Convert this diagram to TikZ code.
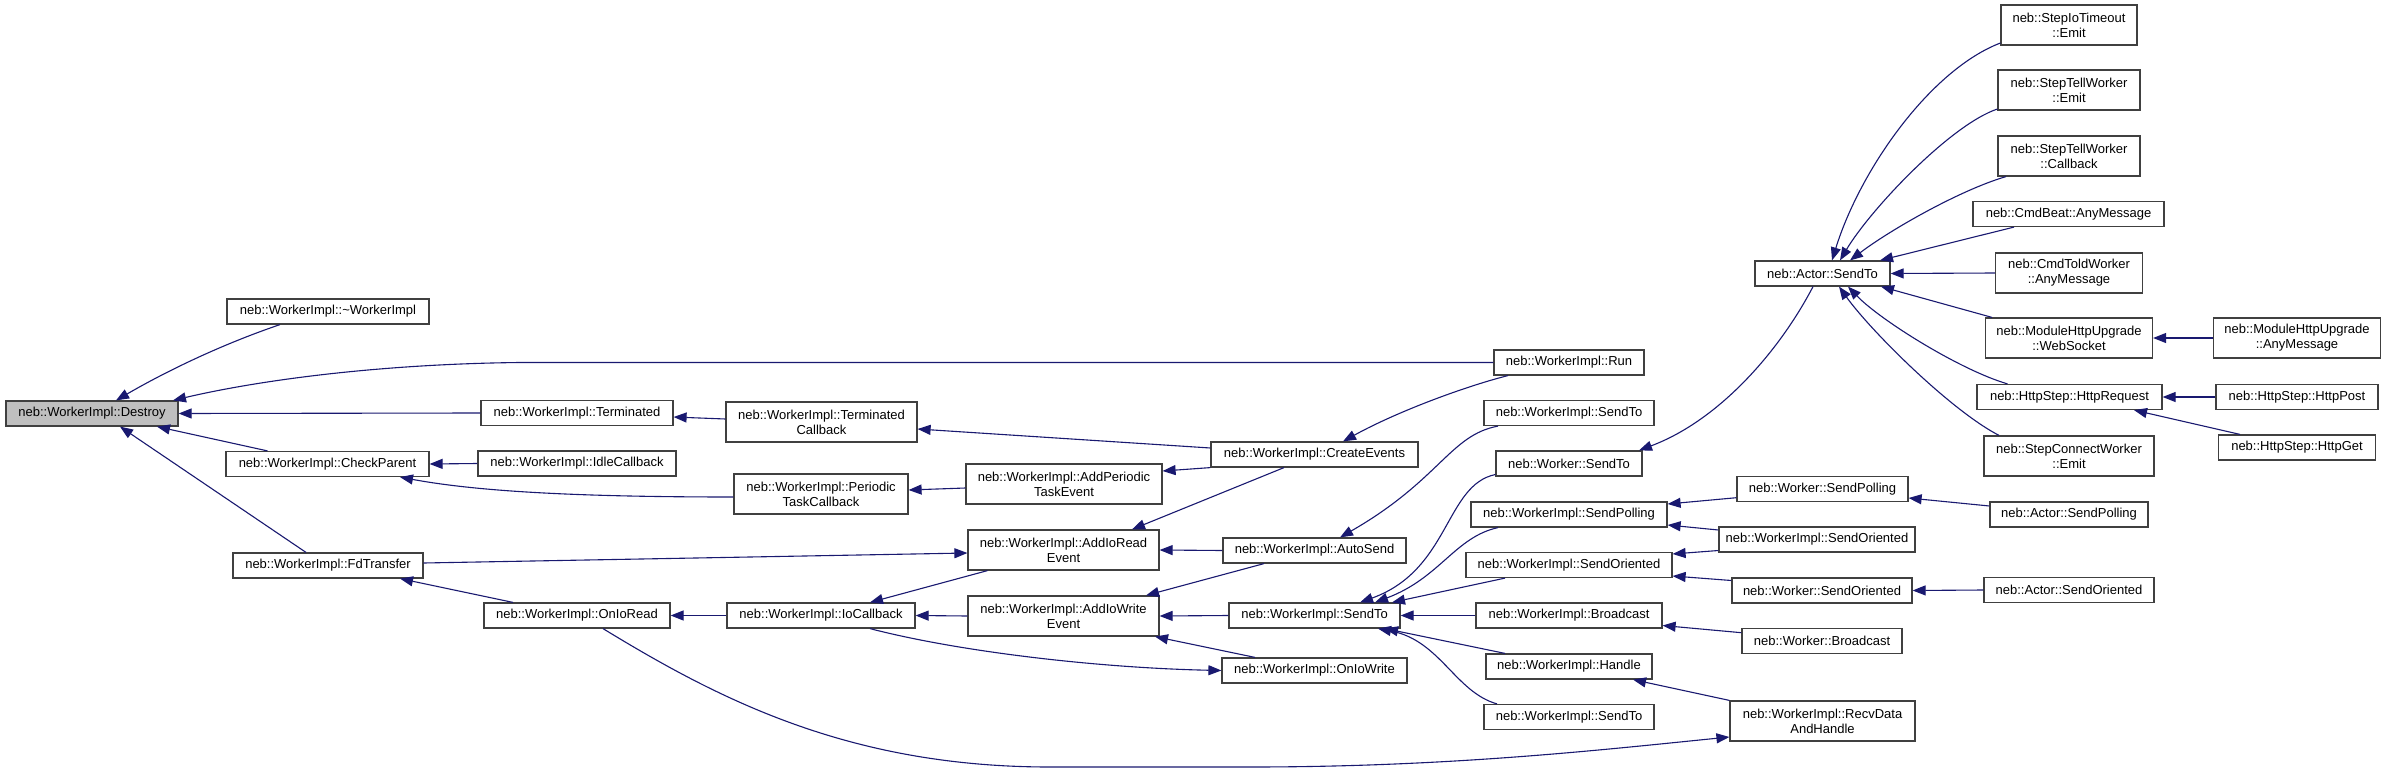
\documentclass[tikz,border=0pt]{standalone}
\usepackage{fontspec}
\setmainfont{Liberation Sans}
\usetikzlibrary{arrows.meta}
\definecolor{edgeblue}{HTML}{191970}
\definecolor{nodeborder}{HTML}{404040}
\definecolor{hilite}{HTML}{BFBFBF}
\begin{document}
\begin{tikzpicture}[x=1pt,y=-1pt,
  box/.style={draw=nodeborder, line width=1.2pt, fill=white, inner sep=0pt, align=center,
    font=\fontsize{13}{15}\selectfont, minimum height=25pt},
  tall/.style={minimum height=40pt},
  edge/.style={draw=edgeblue, line width=1.1pt, -{Triangle[length=13pt,width=10pt]}}]
\useasboundingbox (0,0) rectangle (2387,773);
\fill[white] (0,0) rectangle (2387,773);

% nodes
\node[box, fill=hilite, minimum width=172pt] (destroy) at (92,413.5) {neb::WorkerImpl::Destroy};
\node[box, minimum width=202pt] (dtor) at (328,311.5) {neb::WorkerImpl::\textasciitilde WorkerImpl};
\node[box, minimum width=203pt] (checkparent) at (327.5,464) {neb::WorkerImpl::CheckParent};
\node[box, minimum width=190pt] (fdtransfer) at (328,565.5) {neb::WorkerImpl::FdTransfer};
\node[box, minimum width=192pt] (terminated) at (577,413) {neb::WorkerImpl::Terminated};
\node[box, tall, minimum width=191pt] (termcb) at (821.5,422) {neb::WorkerImpl::Terminated\\Callback};
\node[box, minimum width=198pt] (idlecb) at (577,463.5) {neb::WorkerImpl::IdleCallback};
\node[box, tall, minimum width=174pt] (periodiccb) at (821,494) {neb::WorkerImpl::Periodic\\TaskCallback};
\node[box, minimum width=186pt] (onioread) at (577,615.5) {neb::WorkerImpl::OnIoRead};
\node[box, minimum width=188pt] (iocallback) at (821,615.5) {neb::WorkerImpl::IoCallback};
\node[box, minimum width=207pt] (createevents) at (1314.5,454.5) {neb::WorkerImpl::CreateEvents};
\node[box, tall, minimum width=196pt] (addperiodic) at (1064,484) {neb::WorkerImpl::AddPeriodic\\TaskEvent};
\node[box, tall, minimum width=191pt] (addioread) at (1063.5,550) {neb::WorkerImpl::AddIoRead\\Event};
\node[box, minimum width=183pt] (autosend) at (1314.5,550.5) {neb::WorkerImpl::AutoSend};
\node[box, tall, minimum width=191pt] (addiowrite) at (1063.5,616) {neb::WorkerImpl::AddIoWrite\\Event};
\node[box, minimum width=171pt] (wisendto) at (1314.5,615.5) {neb::WorkerImpl::SendTo};
\node[box, minimum width=185pt] (oniowrite) at (1314.5,670.5) {neb::WorkerImpl::OnIoWrite};
\node[box, minimum width=150pt] (run) at (1569,362.5) {neb::WorkerImpl::Run};
\node[box, minimum width=170pt] (wisendtoA) at (1569,413) {neb::WorkerImpl::SendTo};
\node[box, minimum width=146pt] (workersendto) at (1569,463.5) {neb::Worker::SendTo};
\node[box, minimum width=196pt] (wisendpolling) at (1569,514.5) {neb::WorkerImpl::SendPolling};
\node[box, minimum width=206pt] (wisendoriented) at (1569,565) {neb::WorkerImpl::SendOriented};
\node[box, minimum width=186pt] (wibroadcast) at (1569,615.5) {neb::WorkerImpl::Broadcast};
\node[box, minimum width=166pt] (wihandle) at (1569,666.5) {neb::WorkerImpl::Handle};
\node[box, minimum width=170pt] (wisendtoB) at (1569,717) {neb::WorkerImpl::SendTo};
\node[box, minimum width=135pt] (actorsendto) at (1822.5,273.5) {neb::Actor::SendTo};
\node[box, minimum width=171pt] (workersendpolling) at (1822.5,489) {neb::Worker::SendPolling};
\node[box, minimum width=196pt] (wisendoriented2) at (1817,539.5) {neb::WorkerImpl::SendOriented};
\node[box, minimum width=180pt] (workersendoriented) at (1822,590.5) {neb::Worker::SendOriented};
\node[box, minimum width=160pt] (workerbroadcast) at (1822,641) {neb::Worker::Broadcast};
\node[box, tall, minimum width=185pt] (recvdata) at (1822.5,721) {neb::WorkerImpl::RecvData\\AndHandle};
\node[box, tall, minimum width=136pt] (stepio) at (2069,25) {neb::StepIoTimeout\\::Emit};
\node[box, tall, minimum width=142pt] (steptellemit) at (2069,90) {neb::StepTellWorker\\::Emit};
\node[box, tall, minimum width=142pt] (steptellcb) at (2069,156) {neb::StepTellWorker\\::Callback};
\node[box, minimum width=191pt] (cmdbeat) at (2068.5,214) {neb::CmdBeat::AnyMessage};
\node[box, tall, minimum width=147pt] (cmdtold) at (2069,273) {neb::CmdToldWorker\\::AnyMessage};
\node[box, tall, minimum width=167pt] (websocket) at (2069,338) {neb::ModuleHttpUpgrade\\::WebSocket};
\node[box, tall, minimum width=167pt] (mhuany) at (2297,338) {neb::ModuleHttpUpgrade\\::AnyMessage};
\node[box, minimum width=185pt] (httprequest) at (2069.5,397) {neb::HttpStep::HttpRequest};
\node[box, minimum width=162pt] (httppost) at (2297,397) {neb::HttpStep::HttpPost};
\node[box, minimum width=157.5pt] (httpget) at (2297,447.5) {neb::HttpStep::HttpGet};
\node[box, tall, minimum width=170pt] (stepconnect) at (2069,456) {neb::StepConnectWorker\\::Emit};
\node[box, minimum width=158pt] (actorsendpolling) at (2069,514.5) {neb::Actor::SendPolling};
\node[box, minimum width=170pt] (actorsendoriented) at (2069,590) {neb::Actor::SendOriented};

% edges: left part
\draw[edge] ([xshift=-48pt]dtor.south) .. controls (220,345) and (165,372) .. ([xshift=24pt]destroy.north);
\draw[edge] (run.west) -- (520,362.5) .. controls (380,364) and (260,380) .. ([xshift=81pt]destroy.north);
\draw[edge] (terminated.west) -- (destroy.east);
\draw[edge] ([xshift=-60pt]checkparent.north) -- ([xshift=65pt]destroy.south);
\draw[edge] ([xshift=-22pt]fdtransfer.north) -- ([xshift=28pt]destroy.south);
\draw[edge] ([yshift=3pt]termcb.west) -- ([yshift=-4pt]terminated.east);
\draw[edge] ([yshift=6.5pt]createevents.west) -- ([yshift=-7pt]termcb.east);
\draw[edge] (idlecb.west) -- (checkparent.east);
\draw[edge] ([yshift=-3pt]periodiccb.west) .. controls (560,497) and (470,490) .. ([xshift=72.5pt]checkparent.south);
\draw[edge] ([yshift=-4pt]addperiodic.west) -- ([yshift=4pt]periodiccb.east);
\draw[edge] (createevents.south west) -- ([yshift=13pt]addperiodic.east);
\draw[edge] ([yshift=2.5pt]fdtransfer.east) -- ([yshift=-3pt]addioread.west);
\draw[edge] ([xshift=-64pt]onioread.north) -- ([xshift=72pt]fdtransfer.south);
\draw[edge] (iocallback.west) -- (onioread.east);
\draw[edge] ([xshift=26pt]onioread.south) .. controls (720,700) and (850,767) .. (1050,767) -- (1250,767) .. controls (1450,767) and (1600,750) .. ([yshift=-16pt]recvdata.west);
\draw[edge] ([xshift=-76pt]addioread.south) -- ([xshift=49pt]iocallback.north);
\draw[edge] (addiowrite.west) -- (iocallback.east);
\draw[edge] ([xshift=49pt]iocallback.south) .. controls (960,652) and (1100,668) .. (oniowrite.west);
\draw[edge] ([xshift=-30.5pt]createevents.south) -- ([xshift=68.5pt]addioread.north);
\draw[edge] (autosend.west) -- (addioread.east);
\draw[edge] ([xshift=-50.5pt]autosend.south) -- ([xshift=82.5pt]addiowrite.north);
\draw[edge] (wisendto.west) -- (addiowrite.east);
\draw[edge] ([xshift=-59.5pt]oniowrite.north) -- ([xshift=91.5pt]addiowrite.south);
\draw[edge] ([xshift=-61pt]run.south) .. controls (1470,385) and (1400,410) .. ([xshift=28.5pt]createevents.north);
\draw[edge] ([xshift=-71pt]wisendtoA.south) .. controls (1450,435) and (1440,480) .. ([xshift=25.5pt]autosend.north);

% edges: SendTo hub
\draw[edge] ([yshift=-11pt]workersendto.west) .. controls (1445,485) and (1450,570) .. ([xshift=45.5pt]wisendto.north);
\draw[edge] ([xshift=-71pt]wisendpolling.south) .. controls (1455,537) and (1440,578) .. ([xshift=60.5pt]wisendto.north);
\draw[edge] ([xshift=-64pt]wisendoriented.south) -- ([xshift=77.5pt]wisendto.north);
\draw[edge] (wibroadcast.west) -- (wisendto.east);
\draw[edge] ([xshift=-64pt]wihandle.north) -- ([xshift=70.5pt]wisendto.south);
\draw[edge] ([xshift=-72pt]wisendtoB.north) .. controls (1455,692) and (1440,640) .. ([xshift=63.5pt]wisendto.south);

% edges: Actor::SendTo
\draw[edge] ([xshift=-9.5pt]actorsendto.south) .. controls (1780,350) and (1720,420) .. ([xshift=70pt]workersendto.north);
\draw[edge] ([yshift=-18pt]stepio.west) .. controls (1930,70) and (1860,170) .. ([xshift=9.5pt]actorsendto.north);
\draw[edge] ([yshift=-19pt]steptellemit.west) .. controls (1950,125) and (1870,210) .. ([xshift=17.5pt]actorsendto.north);
\draw[edge] ([xshift=-63pt]steptellcb.south) .. controls (1960,190) and (1890,230) .. ([xshift=27.5pt]actorsendto.north);
\draw[edge] ([xshift=-54.5pt]cmdbeat.south) -- ([xshift=57.5pt]actorsendto.north);
\draw[edge] (cmdtold.west) -- (actorsendto.east);
\draw[edge] ([xshift=-77pt]websocket.north) -- ([xshift=58.5pt]actorsendto.south);
\draw[edge] ([xshift=-62pt]httprequest.north) .. controls (1960,370) and (1880,320) .. ([xshift=25.5pt]actorsendto.south);
\draw[edge] ([xshift=-70pt]stepconnect.north) .. controls (1950,410) and (1870,330) .. ([xshift=16.5pt]actorsendto.south);
\draw[edge] (mhuany.west) -- (websocket.east);
\draw[edge] (httppost.west) -- (httprequest.east);
\draw[edge] ([xshift=-57pt]httpget.north) -- ([xshift=64.5pt]httprequest.south);

% edges: right middle
\draw[edge] ([yshift=8.5pt]actorsendpolling.west) -- ([yshift=-9pt]workersendpolling.east);
\draw[edge] (actorsendoriented.west) -- (workersendoriented.east);
\draw[edge] ([yshift=-8.7pt]workersendpolling.west) -- ([yshift=10.5pt]wisendpolling.east);
\draw[edge] ([yshift=9.5pt]wisendoriented2.west) -- ([yshift=-10.5pt]wisendpolling.east);
\draw[edge] ([yshift=-11pt]wisendoriented2.west) -- ([yshift=11pt]wisendoriented.east);
\draw[edge] ([yshift=10pt]workersendoriented.west) -- ([yshift=-11pt]wisendoriented.east);
\draw[edge] ([yshift=8.3pt]workerbroadcast.west) -- ([yshift=-10pt]wibroadcast.east);
\draw[edge] (recvdata.north west) -- ([xshift=64pt]wihandle.south);
\end{tikzpicture}
\end{document}
